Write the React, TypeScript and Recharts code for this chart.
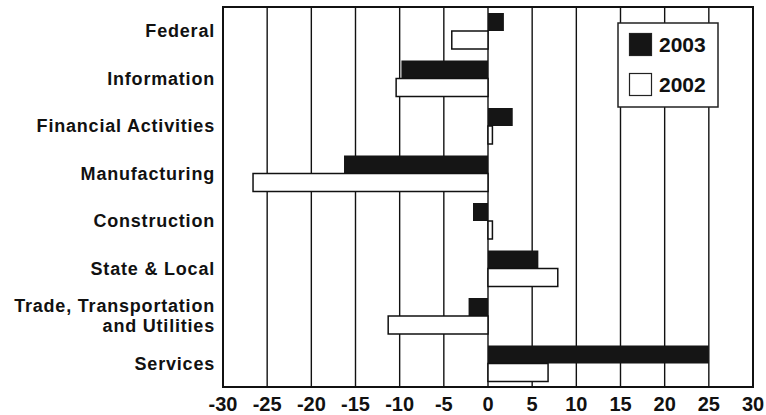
import React from "react";
import {
  BarChart,
  Bar,
  XAxis,
  YAxis,
  CartesianGrid,
  ReferenceArea,
} from "recharts";

// Categories top to bottom
const sectors = [
  "Federal",
  "Information",
  "Financial Activities",
  "Manufacturing",
  "Construction",
  "State & Local",
  "Trade, Transportation\nand Utilities",
  "Services",
];
const values2003 = [1.8, -9.8, 2.8, -16.3, -1.7, 5.7, -2.2, 25];
const values2002 = [-4.1, -10.4, 0.5, -26.6, 0.5, 7.9, -11.3, 6.8];
const xTicks = [-30, -25, -20, -15, -10, -5, 0, 5, 10, 15, 20, 25, 30];
const seriesNames = ["2003", "2002"];
const seriesFills = ["#151515", "#ffffff"];

const data = sectors.map((name, i) => ({
  name,
  y2003: values2003[i],
  y2002: values2002[i],
}));

const FONT = "'Liberation Sans', Arial, Helvetica, sans-serif";

const SectorTick = (props: any) => {
  const { x, y, payload } = props;
  const lines = String(payload.value).split("\n");
  const lineH = 19.5;
  const start = -((lines.length - 1) * lineH) / 2;
  return (
    <text
      x={x}
      y={y}
      textAnchor="end"
      fill="#111"
      fontFamily={FONT}
      fontWeight="bold"
      fontSize={18}
      letterSpacing={0.8}
    >
      {lines.map((ln, i) => (
        <tspan key={i} x={x} y={y + start + i * lineH} dy="0.355em">
          {ln}
        </tspan>
      ))}
    </text>
  );
};

// legend box drawn over the chart, top right of the plot
const LegendBox = () => (
  <svg
    width={102}
    height={86}
    style={{ position: "absolute", left: 617, top: 22, display: "block" }}
  >
    <rect x={1} y={1} width={100} height={84} fill="#fff" stroke="#222" strokeWidth={1.5} />
    {seriesNames.map((label, i) => (
      <g key={label}>
        <rect
          x={12.5}
          y={11.5 + i * 40}
          width={22}
          height={22}
          fill={seriesFills[i]}
          stroke="#222"
          strokeWidth={1.2}
        />
        <text
          x={42}
          y={23 + i * 40}
          dy="0.355em"
          fontFamily={FONT}
          fontWeight="bold"
          fontSize={21}
          fill="#111"
        >
          {label}
        </text>
      </g>
    ))}
  </svg>
);

export default function App() {
  return (
    <div style={{ position: "absolute", left: 0, top: 0, width: 766, height: 415, background: "#fff" }}>
      <BarChart
        width={766}
        height={415}
        data={data}
        layout="vertical"
        margin={{ top: 7, right: 13, bottom: 0, left: 0 }}
        barSize={18}
        barGap={0}
      >
        <CartesianGrid horizontal={false} stroke="#111" strokeWidth={1.4} />
        <XAxis
          type="number"
          domain={[-30, 30]}
          ticks={xTicks}
          interval={0}
          height={28}
          axisLine={false}
          tickLine={false}
          tickMargin={4}
          tick={{ fill: "#111", fontFamily: FONT, fontWeight: "bold", fontSize: 20 }}
        />
        <YAxis
          type="category"
          dataKey="name"
          width={223}
          interval={0}
          axisLine={false}
          tickLine={false}
          tick={<SectorTick />}
        />
        <Bar dataKey="y2003" name={seriesNames[0]} fill={seriesFills[0]} isAnimationActive={false} />
        <Bar
          dataKey="y2002"
          name={seriesNames[1]}
          fill={seriesFills[1]}
          stroke="#111"
          strokeWidth={1.5}
          isAnimationActive={false}
        />
        <ReferenceArea
          x1={-30}
          x2={30}
          fill="none"
          stroke="#111"
          strokeWidth={2}
          ifOverflow="visible"
        />
      </BarChart>
      <LegendBox />
    </div>
  );
}
